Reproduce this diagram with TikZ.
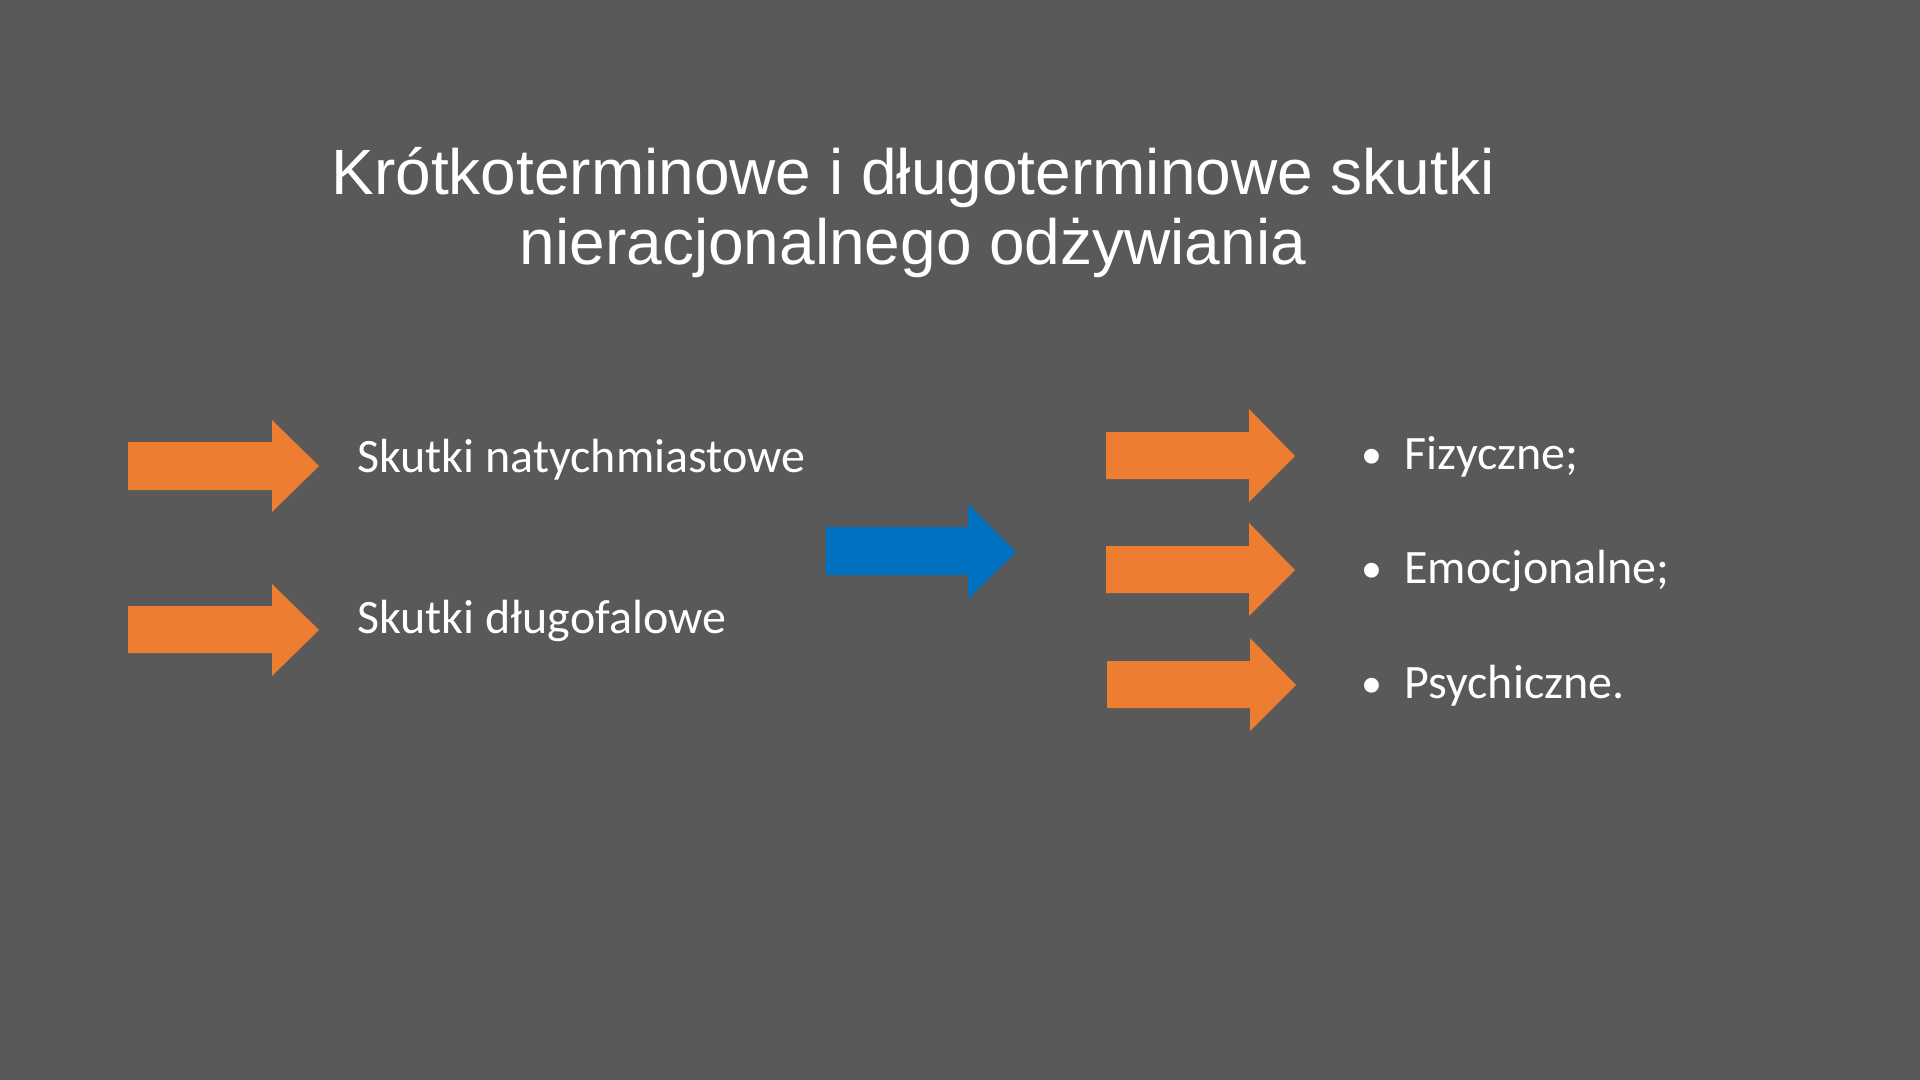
\documentclass[tikz,border=0pt]{standalone}
\usepackage{fontspec}
\setmainfont{Carlito}
\newfontfamily\titlefont{Liberation Sans}
\definecolor{bg}{HTML}{595959}
\definecolor{orangeA}{HTML}{ED7D31}
\definecolor{blueA}{HTML}{0070C0}
\begin{document}
\begin{tikzpicture}[x=0.5pt,y=-0.5pt,
  titletext/.style={text=white,inner sep=0pt,anchor=base,font=\titlefont\fontsize{32}{38}\selectfont},
  bodytext/.style={text=white,inner sep=0pt,anchor=base west,font=\fontsize{24}{29}\selectfont},
  bullettext/.style={text=white,inner sep=0pt,anchor=base,font=\fontsize{21}{25}\selectfont},
  blockarrow/.style={fill=#1,draw=none}]
\fill[bg] (0,0) rectangle (1920,1080);
\useasboundingbox (0,0) rectangle (1920,1080);
% title
\node[titletext] (t1) at (913,195) {Krótkoterminowe i długoterminowe skutki};
\node[titletext] (t2) at (913,265) {nieracjonalnego odżywiania};
% left arrows
\path[blockarrow=orangeA] (128,442) -- (272,442) -- (272,420) -- (319,466) -- (272,512) -- (272,490) -- (128,490) -- cycle;
\path[blockarrow=orangeA] (128,606) -- (272,606) -- (272,584) -- (319,630) -- (272,676) -- (272,653) -- (128,653) -- cycle;
\node[bodytext] (s1) at (357,472) {Skutki natychmiastowe};
\node[bodytext] (s2) at (357,633) {Skutki długofalowe};
% blue arrow
\path[blockarrow=blueA] (826,527) -- (968,527) -- (968,504) -- (1016,552) -- (968,599) -- (968,575) -- (826,575) -- cycle;
% right arrows
\path[blockarrow=orangeA] (1106,432) -- (1249,432) -- (1249,409) -- (1295,456) -- (1249,502) -- (1249,479) -- (1106,479) -- cycle;
\path[blockarrow=orangeA] (1106,546) -- (1249,546) -- (1249,523) -- (1295,570) -- (1249,616) -- (1249,593) -- (1106,593) -- cycle;
\path[blockarrow=orangeA] (1107,661) -- (1250,661) -- (1250,638) -- (1296,685) -- (1250,731) -- (1250,708) -- (1107,708) -- cycle;
% bullets
\node[bullettext] (b1) at (1372,468) {•};
\node[bullettext] (b2) at (1372,582) {•};
\node[bullettext] (b3) at (1372,697) {•};
\node[bodytext] (r1) at (1404,469) {Fizyczne;};
\node[bodytext] (r2) at (1404,583) {Emocjonalne;};
\node[bodytext] (r3) at (1404,698) {Psychiczne.};
\end{tikzpicture}
\end{document}
